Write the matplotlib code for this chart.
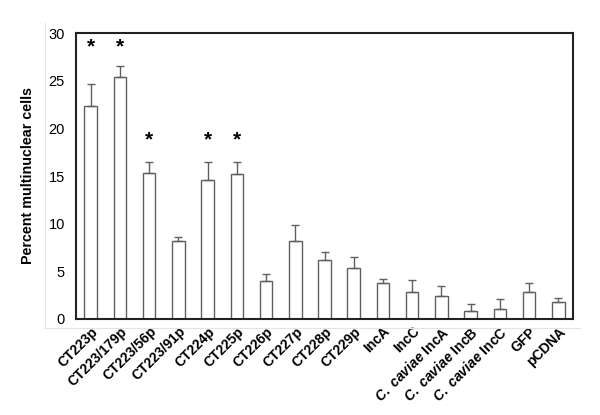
import matplotlib
matplotlib.use("Agg")
import matplotlib.pyplot as plt
from matplotlib.lines import Line2D

categories = ["CT223p", "CT223/179p", "CT223/56p", "CT223/91p", "CT224p", "CT225p",
              "CT226p", "CT227p", "CT228p", "CT229p", "IncA", "IncC",
              r"$\mathit{C.\ caviae}$ IncA", r"$\mathit{C.\ caviae}$ IncB",
              r"$\mathit{C.\ caviae}$ IncC", "GFP", "pCDNA"]
values = [22.3, 25.35, 15.35, 8.2, 14.6, 15.2, 3.95, 8.2, 6.2, 5.4, 3.75, 2.8,
          2.4, 0.8, 1.0, 2.8, 1.75]
errors = [2.35, 1.15, 1.1, 0.45, 1.85, 1.25, 0.75, 1.65, 0.8, 1.1, 0.4, 1.3,
          1.05, 0.8, 1.15, 0.95, 0.42]
significant = [True, True, True, False, True, True] + [False] * 11
star_y = [28.5, 28.5, 18.8, 0, 18.8, 18.8] + [0] * 11

plt.rcParams['font.family'] = ['Liberation Sans', 'DejaVu Sans']
plt.rcParams['mathtext.fontset'] = 'custom'
plt.rcParams['mathtext.it'] = 'Liberation Sans:italic:bold'
plt.rcParams['mathtext.rm'] = 'Liberation Sans:bold'

fig = plt.figure(figsize=(6, 4.15), dpi=100)
ax = fig.add_axes([76/600, 1 - 319/415, (573-76)/600, (319-33)/415])

x = list(range(len(categories)))
ax.bar(x, values, width=0.43, color='white', edgecolor='#606060', linewidth=1.0,
       yerr=[[0]*len(errors), errors], ecolor='#606060',
       error_kw=dict(elinewidth=1.0, capsize=3, capthick=1.0))

for xi, s, sy in zip(x, significant, star_y):
    if s:
        ax.text(xi, sy, '*', ha='center', va='center', fontsize=15, fontweight='bold')

ax.set_xlim(-0.5, len(categories) - 0.5)
ax.set_ylim(0, 30)
ax.set_yticks([0, 5, 10, 15, 20, 25, 30])
ax.tick_params(axis='both', length=0)
ax.tick_params(axis='y', labelsize=10.5, pad=8)
ax.set_xticks(x)
ax.set_xticklabels(categories, rotation=45, ha='right', rotation_mode='anchor',
                   fontsize=10, fontweight='bold')
ax.tick_params(axis='x', pad=4)
for sp in ax.spines.values():
    sp.set_color('#222222')
    sp.set_linewidth(1.5)
ax.set_ylabel('Percent multinuclear cells', fontsize=10.3, fontweight='bold', labelpad=10)

# faint outer chart-area lines (left and bottom)
fig.lines.append(Line2D([45/600, 45/600], [1 - 23/415, 1 - 328/415],
                        transform=fig.transFigure, color='#e3e3e3', linewidth=0.8))
fig.lines.append(Line2D([45/600, 580/600], [1 - 328/415, 1 - 328/415],
                        transform=fig.transFigure, color='#e3e3e3', linewidth=0.8))

fig.savefig('out.png', dpi=100)
